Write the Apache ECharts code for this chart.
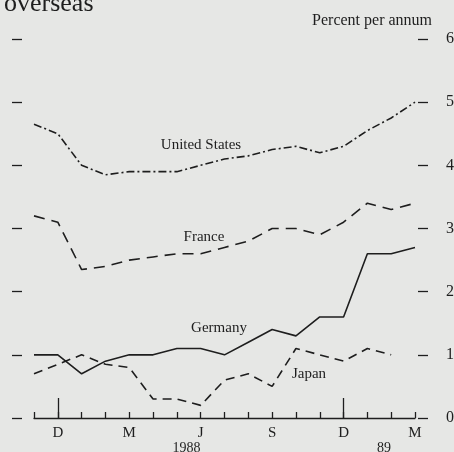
<!DOCTYPE html>
<html>
<head>
<meta charset="utf-8">
<script src="https://cdn.jsdelivr.net/npm/echarts@6/dist/echarts.min.js"></script>
<style>
  html, body { margin: 0; padding: 0; background: #e6e7e5; }
  #chart { width: 454px; height: 452px; }
</style>
</head>
<body>
<div id="chart"></div>
<script>
// months Nov 1987 .. Mar 1989 (index 0..16)
const months = ['N', 'D', 'J', 'F', 'M', 'A', 'M', 'J', 'J', 'A', 'S', 'O', 'N', 'D', 'J', 'F', 'M'];
const monthTicks = [1, 4, 7, 10, 13, 16];
const yearTicks = [6.4, 14.7];
const yearNames = ['1988', '89'];

const unitedStates = [4.65, 4.5, 4.0, 3.85, 3.9, 3.9, 3.9, 4.0, 4.1, 4.15, 4.25, 4.3, 4.2, 4.3, 4.55, 4.75, 5.0];
const france = [3.2, 3.1, 2.35, 2.4, 2.5, 2.55, 2.6, 2.6, 2.7, 2.8, 3.0, 3.0, 2.9, 3.1, 3.4, 3.3, 3.4];
const germany = [1.0, 1.0, 0.7, 0.9, 1.0, 1.0, 1.1, 1.1, 1.0, 1.2, 1.4, 1.3, 1.6, 1.6, 2.6, 2.6, 2.7];
const japan = [0.7, 0.85, 1.0, 0.85, 0.8, 0.3, 0.3, 0.2, 0.6, 0.7, 0.5, 1.1, 1.0, 0.9, 1.1, 1.0, null];

const ink = '#1e1e1e';
const serif = 'Liberation Serif';

const toPairs = arr => arr.map((v, i) => [i, v]).filter(p => p[1] !== null);

const chart = echarts.init(document.getElementById('chart'));

const lineSeries = (name, arr, dash) => ({
  name: name,
  type: 'line',
  data: toPairs(arr),
  showSymbol: false,
  silent: true,
  lineStyle: { color: ink, width: 1.6, type: dash }
});

const option = {
  backgroundColor: '#e6e7e5',
  animation: false,
  grid: { left: 34, right: 39, top: 39, bottom: 34, outerBoundsMode: 'none' },
  xAxis: [
    {
      type: 'value', min: 0, max: 16, interval: 1, position: 'bottom',
      axisLine: { show: true, onZero: false, lineStyle: { color: ink, width: 1.3 } },
      axisTick: { show: true, inside: true, length: 6, lineStyle: { color: ink, width: 1.3 } },
      axisLabel: {
        customValues: monthTicks, margin: 8,
        formatter: v => months[v],
        fontFamily: serif, fontSize: 15, color: ink
      },
      splitLine: { show: false }
    },
    {
      // longer ticks marking December
      type: 'value', min: 0, max: 16, position: 'bottom',
      axisLine: { show: false, onZero: false },
      axisTick: { show: true, inside: true, length: 20, customValues: [1, 13], lineStyle: { color: ink, width: 1.3 } },
      axisLabel: { show: false },
      splitLine: { show: false }
    },
    {
      type: 'value', min: 0, max: 16, position: 'bottom',
      axisLine: { show: false, onZero: false },
      axisTick: { show: false },
      axisLabel: {
        customValues: yearTicks, margin: 23,
        formatter: v => yearNames[yearTicks.indexOf(v)],
        fontFamily: serif, fontSize: 14, color: ink
      },
      splitLine: { show: false }
    }
  ],
  yAxis: [
    {
      type: 'value', min: 0, max: 6, interval: 1, position: 'right', offset: 3,
      axisLine: { show: false, onZero: false },
      axisTick: { show: true, length: 10, lineStyle: { color: ink, width: 1.3 } },
      axisLabel: { margin: 28, fontFamily: serif, fontSize: 16, color: ink },
      splitLine: { show: false }
    },
    {
      type: 'value', min: 0, max: 6, interval: 1, position: 'left', offset: 12,
      axisLine: { show: false, onZero: false },
      axisTick: { show: true, length: 10, lineStyle: { color: ink, width: 1.3 } },
      axisLabel: { show: false },
      splitLine: { show: false }
    }
  ],
  series: [
    lineSeries('United States', unitedStates, [8, 3, 2, 3]),
    lineSeries('France', france, [11, 7]),
    lineSeries('Germany', germany, 'solid'),
    lineSeries('Japan', japan, [9, 6])
  ],
  graphic: [
    { type: 'text', left: 4, top: -9, style: { text: 'overseas', font: '26px "Liberation Serif"', fill: ink } },
    { type: 'text', right: 22, top: 13, style: { text: 'Percent per annum', font: '16px "Liberation Serif"', fill: ink } },
    { type: 'text', x: 201, y: 145, style: { text: 'United States', font: '15px "Liberation Serif"', fill: ink, align: 'center', verticalAlign: 'middle' } },
    { type: 'text', x: 204, y: 237, style: { text: 'France', font: '15px "Liberation Serif"', fill: ink, align: 'center', verticalAlign: 'middle' } },
    { type: 'text', x: 219, y: 328, style: { text: 'Germany', font: '15px "Liberation Serif"', fill: ink, align: 'center', verticalAlign: 'middle' } },
    { type: 'text', x: 309, y: 374, style: { text: 'Japan', font: '15px "Liberation Serif"', fill: ink, align: 'center', verticalAlign: 'middle' } }
  ]
};

chart.setOption(option);

window.addEventListener('resize', () => {
  chart.resize();
});
</script>
</body>
</html>
